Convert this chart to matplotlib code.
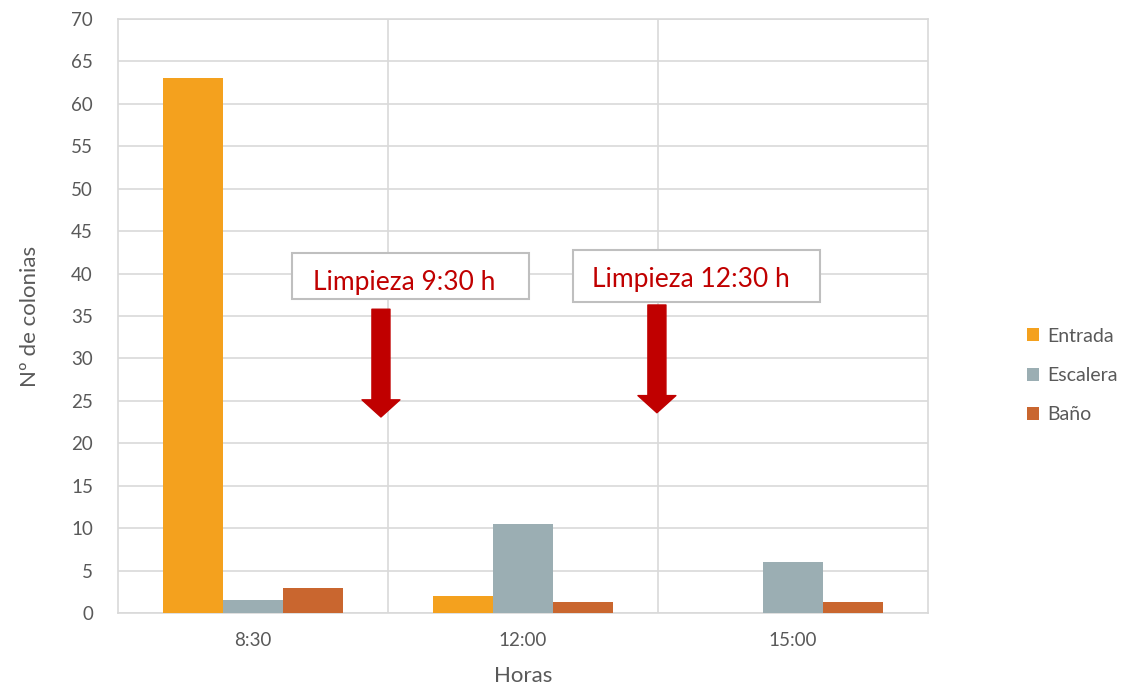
import matplotlib
matplotlib.use("Agg")
import matplotlib.pyplot as plt
from matplotlib.patches import Rectangle
import numpy as np

plt.rcParams['font.family'] = ['Lato', 'DejaVu Sans']

horas = ["8:30", "12:00", "15:00"]
entrada = [63, 2, 0]
escalera = [1.5, 10.5, 6]
bano = [3, 1.3, 1.3]
series_names = ["Entrada", "Escalera", "Baño"]
series_colors = ["#f4a11e", "#9baeb3", "#c9662f"]

# cleaning events
limpiezas = ["Limpieza 9:30 h", "Limpieza 12:30 h"]

# callout layout (data coordinates): arrow x, arrow top, arrow tip,
# box left/right/bottom/top, text centre
arrow_x = [0.474, 1.496]
arrow_top = [35.8, 36.3]
arrow_tip = [23.1, 23.6]
box_left = [0.144, 1.185]
box_right = [1.022, 2.100]
box_bottom = [37.0, 36.65]
box_top = [42.4, 42.8]
text_x = [0.559, 1.622]
text_y = [38.9, 39.3]

fig = plt.figure(figsize=(11.32, 6.94), dpi=100)
ax = fig.add_axes([0.1042, 0.1167, 0.7156, 0.8559])

x = np.arange(len(horas))
w = 60 / 270
grey_txt = "#595959"
grid_c = "#d9d9d9"

for i, (vals, name, col) in enumerate(zip([entrada, escalera, bano], series_names, series_colors)):
    ax.bar(x + (i - 1) * w, vals, width=w, color=col, label=name, zorder=3)

ax.set_xlim(-0.5, 2.5)
ax.set_ylim(0, 70)
ax.set_yticks(np.arange(0, 71, 5))
ax.set_xticks(x)
ax.set_xticklabels(horas)
ax.yaxis.grid(True, color=grid_c, linewidth=1.2, zorder=0)
for b in [0.5, 1.5]:
    ax.axvline(b, color=grid_c, linewidth=1.2, zorder=0)
for s in ax.spines.values():
    s.set_color(grid_c)
    s.set_linewidth(1.2)
ax.tick_params(axis='both', length=0, colors=grey_txt, labelsize=13.5)
ax.tick_params(axis='y', pad=18)
ax.tick_params(axis='x', pad=14)

ax.set_ylabel("Nº de colonias", fontsize=16, color=grey_txt, labelpad=22)
ax.set_xlabel("Horas", fontsize=16, color=grey_txt, labelpad=12)

for k, lab in enumerate(limpiezas):
    ax.annotate("", xy=(arrow_x[k], arrow_tip[k]), xytext=(arrow_x[k], arrow_top[k]),
                arrowprops=dict(arrowstyle="simple,head_width=2.1,head_length=0.95,tail_width=1.0",
                                color="#c00000", mutation_scale=13, shrinkA=0, shrinkB=0),
                zorder=5)
    ax.add_patch(Rectangle((box_left[k], box_bottom[k]), box_right[k] - box_left[k],
                           box_top[k] - box_bottom[k], facecolor="white",
                           edgecolor="#bfbfbf", linewidth=1.5, zorder=6))
    ax.text(text_x[k], text_y[k], lab, ha="center", va="center",
            fontsize=19, color="#c00000", zorder=7)

leg = ax.legend(loc="center left", bbox_to_anchor=(1.10, 0.40), frameon=False,
                fontsize=14, handlelength=0.65, handleheight=0.65,
                labelspacing=1.15, handletextpad=0.4)
for t in leg.get_texts():
    t.set_color(grey_txt)

fig.savefig("out.png", dpi=100)
